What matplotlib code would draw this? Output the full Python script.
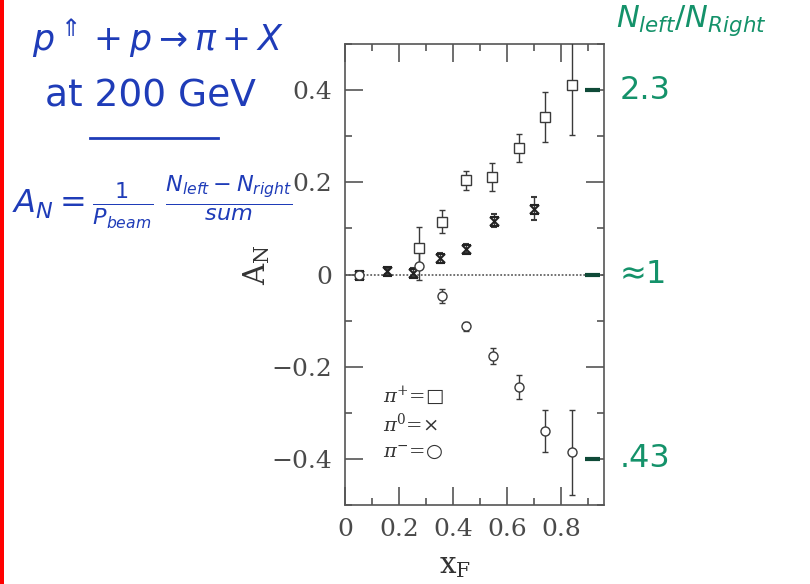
import matplotlib
matplotlib.use("Agg")
import matplotlib.pyplot as plt
from matplotlib.path import Path
from matplotlib.patches import Rectangle
from matplotlib.lines import Line2D
from matplotlib.ticker import MultipleLocator

plt.rcParams["mathtext.fontset"] = "dejavusans"

# pi+ (open squares)
xf_plus = [0.275, 0.36, 0.45, 0.545, 0.645, 0.74, 0.84]
an_plus = [0.058, 0.114, 0.204, 0.211, 0.274, 0.341, 0.412]
err_plus = [0.045, 0.025, 0.02, 0.03, 0.031, 0.054, 0.11]

# pi0 (crosses)
xf_zero = [0.052, 0.154, 0.253, 0.352, 0.45, 0.552, 0.70]
an_zero = [0.0, 0.007, 0.004, 0.036, 0.056, 0.117, 0.143]
err_zero = [0.008, 0.006, 0.01, 0.01, 0.01, 0.015, 0.025]

# pi- (open circles)
xf_minus = [0.052, 0.275, 0.358, 0.448, 0.547, 0.644, 0.741, 0.84]
an_minus = [0.0, 0.019, -0.047, -0.112, -0.177, -0.245, -0.34, -0.386]
err_minus = [0.008, 0.03, 0.015, 0.01, 0.017, 0.026, 0.045, 0.093]

# N_left / N_right values annotated against A_N levels
ratio_levels = [0.4, 0.0, -0.4]
ratio_labels = ["2.3", "≈1", ".43"]

W, H = 810, 584
fig = plt.figure(figsize=(W / 100, H / 100), dpi=100)
fig.patch.set_facecolor("white")


def fx(px):
    return px / W


def fy(py):
    return 1 - py / H


ax = fig.add_axes([fx(345), fy(505), fx(604) - fx(345), fy(44) - fy(505)])

ink = "#3a3a3a"
for s in ax.spines.values():
    s.set_color("#555555")
    s.set_linewidth(1.2)

# hourglass-shaped cross marker
hourglass = Path(
    [(-1, 1), (1, 1), (-1, 1), (1, -1), (1, 1), (-1, -1), (-1, -1), (1, -1)],
    [Path.MOVETO, Path.LINETO, Path.MOVETO, Path.LINETO,
     Path.MOVETO, Path.LINETO, Path.MOVETO, Path.LINETO],
)

ax.axhline(0, color="#666666", lw=1.3, ls=(0, (1, 1)), zorder=1)

common = dict(ls="none", ecolor=ink, elinewidth=1.0, capsize=2.2, capthick=1.0,
              zorder=3)
ax.errorbar(xf_plus, an_plus, yerr=err_plus, marker="s", ms=6.5,
            mfc="white", mec=ink, mew=1.0, **common)
ax.errorbar(xf_zero, an_zero, yerr=err_zero, marker=hourglass, ms=6.5,
            mfc="none", mec="#222222", mew=1.5, **common)
ax.errorbar(xf_minus, an_minus, yerr=err_minus, marker="o", ms=6.5,
            mfc="white", mec=ink, mew=1.0, **common)

ax.set_xlim(0, 0.96)
ax.set_ylim(-0.5, 0.5)
ax.xaxis.set_minor_locator(MultipleLocator(0.1))
ax.yaxis.set_minor_locator(MultipleLocator(0.1))
ax.set_xticks([0, 0.2, 0.4, 0.6, 0.8])
ax.set_xticklabels(["0", "0.2", "0.4", "0.6", "0.8"])
ax.set_yticks([-0.4, -0.2, 0, 0.2, 0.4])
ax.set_yticklabels(["\u22120.4", "\u22120.2", "0", "0.2", "0.4"])
ax.tick_params(which="both", direction="in", top=True, right=True,
               color="#555555", width=1.2)
ax.tick_params(which="major", length=13)
ax.tick_params(which="minor", length=5)
ax.tick_params(axis="x", which="major", pad=9)
ax.tick_params(axis="y", which="major", pad=9)
for lab in ax.get_xticklabels() + ax.get_yticklabels():
    lab.set_fontfamily("DejaVu Serif")
    lab.set_fontsize(18)
    lab.set_color("#4a4a4a")

ax.set_ylabel(r"$\mathrm{A_N}$", fontsize=21, color="#333333", rotation=90,
              math_fontfamily="dejavuserif")
ax.yaxis.set_label_coords((272 - 345) / 259, (505 - 265) / 461)
ax.set_xlabel(r"$\mathrm{x_F}$", fontsize=21, color="#333333",
              math_fontfamily="dejavuserif")
ax.xaxis.set_label_coords((455 - 345) / 259, -(552 - 505) / 461)

# in-plot key
key_x = 0.14
for yv, txt in [(-0.263, r"$\pi^{+}$=□"), (-0.324, r"$\pi^{0}$=×"),
                (-0.385, r"$\pi^{-}$=○")]:
    ax.text(key_x, yv, txt, fontsize=14, color="#333333", va="center",
            ha="left", family="DejaVu Serif", math_fontfamily="dejavuserif")

# green level marks on the right edge
trans = ax.get_yaxis_transform()
for lv in ratio_levels:
    ax.plot([0.925, 0.985], [lv, lv], transform=trans, color="#0f4a38",
            lw=3, solid_capstyle="butt", zorder=4, clip_on=False)

green = "#14926a"
for lv, lab in zip(ratio_levels, ratio_labels):
    py = ax.transData.transform((0, lv))[1]
    fig.text(fx(620), py / fig.dpi / fig.get_figheight(), lab, fontsize=23,
             color=green, va="center", ha="left")
fig.text(fx(616), fy(21), r"$N_{left}/N_{Right}$", fontsize=22,
         color=green, va="center", ha="left")

# blue handwritten notes
blue = "#1f3cb8"
fig.text(fx(32), fy(38), r"$p^{\Uparrow} + p \rightarrow \pi + X$",
         fontsize=25, color=blue, va="center", ha="left")
fig.text(fx(45), fy(97), "at 200 GeV", fontsize=27, color=blue,
         va="center", ha="left")
fig.add_artist(Line2D([fx(90), fx(218)], [fy(138), fy(138)], color=blue,
                      lw=2))
fig.text(fx(12), fy(202),
         r"$A_N = \frac{1}{P_{beam}}\ \frac{N_{left} - N_{right}}{sum}$",
         fontsize=23, color=blue, va="center", ha="left")

# red margin rule
fig.add_artist(Rectangle((0, 0), 4 / W, 1, transform=fig.transFigure,
                         color="#ff0000", lw=0))

fig.savefig("out.png", dpi=100, facecolor="white")
